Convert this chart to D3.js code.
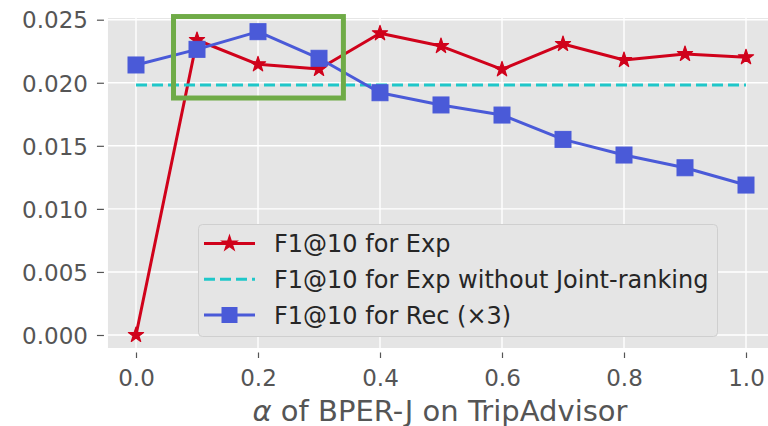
<!DOCTYPE html>
<html>
<head>
<meta charset="utf-8">
<script src="https://cdn.jsdelivr.net/npm/d3@7"></script>
<style>
  html, body { margin: 0; padding: 0; background: #fff; }
  svg { display: block; font-family: "DejaVu Sans", sans-serif; }
</style>
</head>
<body>
<svg id="chart" width="768" height="426"></svg>
<script>
// alpha values on the x axis
const alphas = [0.0, 0.1, 0.2, 0.3, 0.4, 0.5, 0.6, 0.7, 0.8, 0.9, 1.0];
// F1@10 for explanation (BPER-J)
const expF1 = [0.0000, 0.02339, 0.02146, 0.02109, 0.02392, 0.02291, 0.02106, 0.02307, 0.02180, 0.02228, 0.02202];
// F1@10 for explanation without joint ranking (constant baseline)
const expBaseline = 0.01982;
// F1@10 for recommendation, scaled by 3
const recF1 = [0.02141, 0.02265, 0.02405, 0.02194, 0.01921, 0.01824, 0.01744, 0.01551, 0.01427, 0.01326, 0.01189];
// tick values
const xTicks = [0.0, 0.2, 0.4, 0.6, 0.8, 1.0];
const yTicks = [0.000, 0.005, 0.010, 0.015, 0.020, 0.025];
// highlighted region [x0, x1] x [y0, y1]
const highlightX = [0.0615, 0.340];
const highlightY = [0.01879, 0.02525];
// legend entries
const legendLabels = ["F1@10 for Exp", "F1@10 for Exp without Joint-ranking", "F1@10 for Rec (\u00d73)"];

const svg = d3.select("#chart");
const x = d3.scaleLinear().domain([0, 1]).range([136, 746]);
const y = d3.scaleLinear().domain([0, 0.025]).range([335, 19.7]);

const xMin = -0.046, xMax = 1.06;
const yMin = -0.00103, yMax = 0.02513;

const red = "#d0021b", blue = "#4a5ad8", cyan = "#1fc7c9", green = "#6fab47";

// plot background
svg.append("rect")
  .attr("x", x(xMin)).attr("y", y(yMax))
  .attr("width", x(xMax) - x(xMin)).attr("height", y(yMin) - y(yMax))
  .attr("fill", "#e5e5e5");

// grid
const grid = svg.append("g").attr("stroke", "#fff").attr("stroke-width", 1.4);
grid.selectAll("line.gx").data(xTicks).join("line")
  .attr("x1", d => x(d)).attr("x2", d => x(d))
  .attr("y1", y(yMax)).attr("y2", y(yMin));
grid.selectAll("line.gy").data(yTicks).join("line")
  .attr("y1", d => y(d)).attr("y2", d => y(d))
  .attr("x1", x(xMin)).attr("x2", x(xMax));

// axes
const xAxis = d3.axisBottom(x).tickValues(xTicks).tickFormat(d3.format(".1f"))
  .tickSize(5.5).tickPadding(11);
const yAxis = d3.axisLeft(y).tickValues(yTicks).tickFormat(d3.format(".3f"))
  .tickSize(7).tickPadding(9);

const gx = svg.append("g").attr("transform", `translate(0,${y(yMin) + 4.5})`).call(xAxis);
const gy = svg.append("g").attr("transform", `translate(${x(xMin) - 4},0)`).call(yAxis);
[gx, gy].forEach(g => {
  g.select(".domain").remove();
  g.selectAll(".tick line").attr("stroke", "#555").attr("stroke-width", 1.2);
  g.selectAll(".tick text").attr("fill", "#555").attr("font-size", 23)
    .attr("font-family", "DejaVu Sans, sans-serif");
});
gy.selectAll(".tick text").attr("dy", "0.36em");
gx.selectAll(".tick text").attr("dy", "0.72em");

// x axis label
const xl = svg.append("text")
  .attr("x", 440).attr("y", 421)
  .attr("text-anchor", "middle")
  .attr("fill", "#555").attr("font-size", 29);
xl.append("tspan").attr("font-style", "italic").text("\u03b1");
xl.append("tspan").text(" of BPER-J on TripAdvisor");

// star marker path
function starPath(r) {
  const ri = r * 0.381966;
  const pts = [];
  for (let i = 0; i < 10; i++) {
    const a = -Math.PI / 2 + i * Math.PI / 5;
    const rr = i % 2 === 0 ? r : ri;
    pts.push([rr * Math.cos(a), rr * Math.sin(a)]);
  }
  return "M" + pts.map(p => p.join(",")).join("L") + "Z";
}

const line = d3.line().x((d, i) => x(alphas[i])).y(d => y(d));

// explanation series
svg.append("path").datum(expF1)
  .attr("d", line).attr("fill", "none")
  .attr("stroke", red).attr("stroke-width", 3).attr("stroke-linejoin", "round");
svg.selectAll("path.star").data(expF1).join("path")
  .attr("class", "star")
  .attr("d", starPath(8))
  .attr("transform", (d, i) => `translate(${x(alphas[i])},${y(d)})`)
  .attr("fill", red).attr("stroke", red).attr("stroke-width", 1.2).attr("stroke-linejoin", "round");

// baseline without joint ranking
svg.append("line")
  .attr("x1", x(0)).attr("x2", x(1))
  .attr("y1", y(expBaseline)).attr("y2", y(expBaseline))
  .attr("stroke", cyan).attr("stroke-width", 3).attr("stroke-dasharray", "11,5");

// recommendation series
svg.append("path").datum(recF1)
  .attr("d", line).attr("fill", "none")
  .attr("stroke", blue).attr("stroke-width", 3).attr("stroke-linejoin", "round");
const sq = 16;
svg.selectAll("rect.sq").data(recF1).join("rect")
  .attr("class", "sq")
  .attr("x", (d, i) => x(alphas[i]) - sq / 2).attr("y", d => y(d) - sq / 2)
  .attr("width", sq).attr("height", sq)
  .attr("fill", blue).attr("stroke", blue).attr("stroke-width", 1);

// highlight box
svg.append("rect")
  .attr("x", x(highlightX[0])).attr("y", y(highlightY[1]))
  .attr("width", x(highlightX[1]) - x(highlightX[0]))
  .attr("height", y(highlightY[0]) - y(highlightY[1]))
  .attr("fill", "none").attr("stroke", green).attr("stroke-width", 5);

// legend
const lg = svg.append("g");
lg.append("rect")
  .attr("x", 198.5).attr("y", 224.5).attr("width", 519).attr("height", 112)
  .attr("rx", 4).attr("fill", "#e5e5e5").attr("stroke", "#cfcfcf").attr("stroke-width", 1);
const rowY = [243.5, 279.3, 315];
const hx0 = 204, hx1 = 255, hxm = 229.5;
// row 1
lg.append("line").attr("x1", hx0).attr("x2", hx1).attr("y1", rowY[0]).attr("y2", rowY[0])
  .attr("stroke", red).attr("stroke-width", 3);
lg.append("path").attr("d", starPath(8)).attr("transform", `translate(${hxm},${rowY[0]})`)
  .attr("fill", red).attr("stroke", red).attr("stroke-width", 1.2);
// row 2
lg.append("line").attr("x1", hx0).attr("x2", hx1).attr("y1", rowY[1]).attr("y2", rowY[1])
  .attr("stroke", cyan).attr("stroke-width", 3).attr("stroke-dasharray", "11,5");
// row 3
lg.append("line").attr("x1", hx0).attr("x2", hx1).attr("y1", rowY[2]).attr("y2", rowY[2])
  .attr("stroke", blue).attr("stroke-width", 3);
lg.append("rect").attr("x", hxm - sq / 2).attr("y", rowY[2] - sq / 2).attr("width", sq).attr("height", sq)
  .attr("fill", blue);
lg.selectAll("text").data(legendLabels).join("text")
  .attr("x", 274).attr("y", (d, i) => rowY[i]).attr("dy", "0.36em")
  .attr("fill", "#262626").attr("font-size", 24)
  .text(d => d);
</script>
</body>
</html>
